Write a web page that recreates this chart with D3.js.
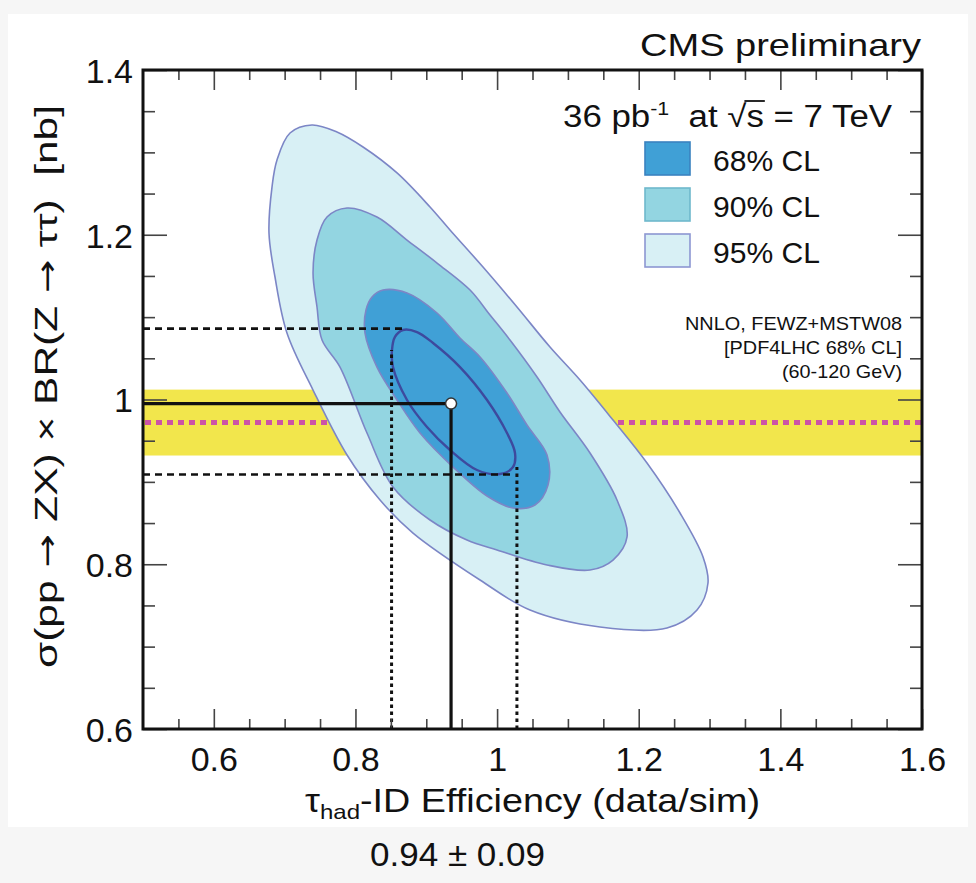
<!DOCTYPE html>
<html><head><meta charset="utf-8">
<script src="https://cdn.jsdelivr.net/npm/d3@7/dist/d3.min.js"></script>
<style>
html,body{margin:0;padding:0;background:#f6f6f6;}
svg{display:block;}
text{font-family:"Liberation Sans",Arial,Helvetica,sans-serif;fill:#111;}
</style></head>
<body>
<svg id="c" width="976" height="883"></svg>
<script>
// ---------- data ----------
const xTicks = [0.6, 0.8, 1.0, 1.2, 1.4, 1.6];
const xTickLabels = ["0.6", "0.8", "1", "1.2", "1.4", "1.6"];
const yTicks = [0.6, 0.8, 1.0, 1.2, 1.4];
const yTickLabels = ["0.6", "0.8", "1", "1.2", "1.4"];
const xDomain = [0.5, 1.6];
const yDomain = [0.6, 1.4];

const contour95 = [[0.7386,1.3332],[0.7739,1.3247],[0.8107,1.3065],[0.8587,1.2750],[0.9053,1.2337],[0.9335,1.2058],[0.9801,1.1608],[1.0281,1.1123],[1.0747,1.0637],[1.1171,1.0237],[1.1637,0.9751],[1.2117,0.9229],[1.2583,0.8622],[1.2908,0.8088],[1.2978,0.7772],[1.2823,0.7444],[1.2399,0.7226],[1.1453,0.7238],[1.0465,0.7444],[0.9759,0.7809],[0.8813,0.8379],[0.8347,0.8780],[0.7881,0.9326],[0.7401,1.0115],[0.7033,1.0807],[0.6864,1.1487],[0.6779,1.2021],[0.6822,1.2580],[0.6892,1.2907],[0.7076,1.3235]];
const contour90 = [[0.7881,1.2325],[0.8304,1.2215],[0.8728,1.1936],[0.9152,1.1657],[0.9618,1.1329],[0.9900,1.1026],[1.0182,1.0722],[1.0564,1.0273],[1.0888,0.9848],[1.1312,0.9350],[1.1693,0.8780],[1.1835,0.8331],[1.1637,0.8051],[1.1312,0.7930],[1.0705,0.7991],[0.9999,0.8173],[0.9575,0.8294],[0.9053,0.8537],[0.8530,0.8938],[0.8163,0.9593],[0.7782,1.0394],[0.7528,1.0722],[0.7457,1.1123],[0.7401,1.1536],[0.7457,1.1936],[0.7598,1.2215]];
const contour68 = [[0.8389,1.1329],[0.8728,1.1293],[0.9152,1.1050],[0.9476,1.0747],[0.9759,1.0516],[1.0140,1.0079],[1.0422,0.9690],[1.0705,0.9326],[1.0719,0.8962],[1.0535,0.8719],[1.0225,0.8683],[0.9858,0.8828],[0.9378,0.9180],[0.8912,0.9593],[0.8587,0.9994],[0.8304,1.0394],[0.8135,1.0807],[0.8149,1.1086],[0.8234,1.1244]];
const ellipse1D = [[0.8671,1.0844],[0.8869,1.0819],[0.9095,1.0686],[0.9476,1.0394],[0.9858,0.9994],[1.0140,0.9593],[1.0253,0.9350],[1.0225,0.9180],[1.0041,0.9095],[0.9716,0.9144],[0.9335,0.9387],[0.9010,0.9666],[0.8728,0.9994],[0.8530,1.0394],[0.8516,1.0601],[0.8558,1.0759]];

const bestFit = [0.935, 0.995];
const effInterval = [0.851, 1.028];
const xsecInterval = [0.909, 1.086];
const theoryCentral = 0.972;
const theoryBand = [0.932, 1.012];

const clLabels = ["68% CL", "90% CL", "95% CL"];
const clFills = ["#40a0d6", "#93d5e1", "#d8f0f5"];
const clStrokes = ["#3a82c0", "#6fb8cc", "#8d97d2"];
const theoryLines = ["NNLO, FEWZ+MSTW08", "[PDF4LHC 68% CL]", "(60-120 GeV)"];
const resultText = "0.94 ± 0.09";
const yTitleParts = ["σ(pp", " → ", "ZX) × BR(Z", " → ", "ττ)  [nb]"];

// ---------- drawing ----------
const svg = d3.select("#c");
const L = 143, R = 922, T = 70, B = 729;
const x = d3.scaleLinear().domain(xDomain).range([L, R]);
const y = d3.scaleLinear().domain(yDomain).range([B, T]);

svg.append("rect").attr("x", 8).attr("y", 14).attr("width", 960).attr("height", 813).attr("fill", "#fff");

// theory band
svg.append("rect").attr("x", x(xDomain[0])).attr("y", y(theoryBand[1]))
  .attr("width", x(xDomain[1]) - x(xDomain[0])).attr("height", y(theoryBand[0]) - y(theoryBand[1]))
  .attr("fill", "#f2e64c");
svg.append("line").attr("x1", x(xDomain[0]) + 2).attr("x2", x(xDomain[1]))
  .attr("y1", y(theoryCentral)).attr("y2", y(theoryCentral))
  .attr("stroke", "#cc53a6").attr("stroke-width", 5).attr("stroke-dasharray", "6,5");

// contours
const line = d3.line().x(d => x(d[0])).y(d => y(d[1])).curve(d3.curveCatmullRomClosed.alpha(0.5));
[[contour95, 2], [contour90, 1], [contour68, 0]].forEach(([pts, i]) => {
  svg.append("path").attr("d", line(pts)).attr("fill", clFills[i])
    .attr("stroke", "#7c86c6").attr("stroke-width", 1.6);
});
svg.append("path").attr("d", line(ellipse1D)).attr("fill", "none")
  .attr("stroke", "#3d4a9e").attr("stroke-width", 2.4);

// error box lines
const g = svg.append("g");
g.append("line").attr("x1", x(xDomain[0])).attr("x2", x(effInterval[0]) + 12)
  .attr("y1", y(xsecInterval[1])).attr("y2", y(xsecInterval[1]))
  .attr("stroke", "#111").attr("stroke-width", 2.6).attr("stroke-dasharray", "7,5");
g.append("line").attr("x1", x(xDomain[0])).attr("x2", x(effInterval[1]) - 6)
  .attr("y1", y(xsecInterval[0])).attr("y2", y(xsecInterval[0]))
  .attr("stroke", "#111").attr("stroke-width", 2.6).attr("stroke-dasharray", "7,5");
g.append("line").attr("x1", x(effInterval[0])).attr("x2", x(effInterval[0]))
  .attr("y1", y(yDomain[0])).attr("y2", y(1.06))
  .attr("stroke", "#111").attr("stroke-width", 3).attr("stroke-dasharray", "3.5,3.5");
g.append("line").attr("x1", x(effInterval[1])).attr("x2", x(effInterval[1]))
  .attr("y1", y(yDomain[0])).attr("y2", y(0.918))
  .attr("stroke", "#111").attr("stroke-width", 3).attr("stroke-dasharray", "3.5,3.5");
g.append("line").attr("x1", x(xDomain[0])).attr("x2", x(bestFit[0]))
  .attr("y1", y(bestFit[1])).attr("y2", y(bestFit[1]))
  .attr("stroke", "#111").attr("stroke-width", 3.2);
g.append("line").attr("x1", x(bestFit[0])).attr("x2", x(bestFit[0]))
  .attr("y1", y(bestFit[1])).attr("y2", y(yDomain[0]))
  .attr("stroke", "#111").attr("stroke-width", 3.2);
g.append("circle").attr("cx", x(bestFit[0])).attr("cy", y(bestFit[1])).attr("r", 5.5)
  .attr("fill", "#fff").attr("stroke", "#333").attr("stroke-width", 1.5);

// axes (ROOT style: ticks inside on all sides)
const xMinor = d3.range(0.55, 1.6, 0.05).filter(v => !xTicks.some(t => Math.abs(t - v) < 1e-6));
const yMinor = d3.range(0.65, 1.4, 0.05).filter(v => !yTicks.some(t => Math.abs(t - v) < 1e-6));
function tickAxis(axisFn, scale, vals, size, tr) {
  const a = svg.append("g").attr("transform", tr)
    .call(axisFn(scale).tickValues(vals).tickSize(size).tickFormat(""));
  a.select(".domain").remove();
  a.selectAll("line").attr("stroke", "#444").attr("stroke-width", 1.6);
  return a;
}
tickAxis(d3.axisBottom, x, xTicks, -20, `translate(0,${B})`);
tickAxis(d3.axisBottom, x, xMinor, -10, `translate(0,${B})`);
tickAxis(d3.axisTop, x, xTicks, -20, `translate(0,${T})`);
tickAxis(d3.axisTop, x, xMinor, -10, `translate(0,${T})`);
tickAxis(d3.axisLeft, y, yTicks, -24, `translate(${L},0)`);
tickAxis(d3.axisLeft, y, yMinor, -12, `translate(${L},0)`);
tickAxis(d3.axisRight, y, yTicks, -24, `translate(${R},0)`);
tickAxis(d3.axisRight, y, yMinor, -12, `translate(${R},0)`);

// tick labels
const xl = svg.append("g").attr("transform", `translate(0,${B})`)
  .call(d3.axisBottom(x).tickValues(xTicks).tickSize(0).tickPadding(18)
    .tickFormat((d, i) => xTickLabels[i]));
xl.select(".domain").remove();
xl.selectAll("text").attr("font-size", 34).attr("dy", "0.71em").attr("fill", "#222")
  .style("font-family", '"Liberation Sans",Arial,sans-serif');
const yl = svg.append("g").attr("transform", `translate(${L},0)`)
  .call(d3.axisLeft(y).tickValues(yTicks).tickSize(0).tickPadding(10)
    .tickFormat((d, i) => yTickLabels[i]));
yl.select(".domain").remove();
yl.selectAll("text").attr("font-size", 34).attr("dy", "0.36em").attr("fill", "#222")
  .style("font-family", '"Liberation Sans",Arial,sans-serif');

// frame
svg.append("rect").attr("x", L).attr("y", T).attr("width", R - L).attr("height", B - T)
  .attr("fill", "none").attr("stroke", "#111").attr("stroke-width", 3);

// titles
svg.append("text").attr("x", 640).attr("y", 56)
  .attr("font-size", 32).attr("textLength", 281).attr("lengthAdjust", "spacingAndGlyphs")
  .text("CMS preliminary");

const xt = svg.append("text").attr("x", 305).attr("y", 812).attr("font-size", 33)
  .attr("textLength", 455).attr("lengthAdjust", "spacingAndGlyphs");
xt.append("tspan").text("τ");
xt.append("tspan").attr("font-size", 21).attr("dy", 7).text("had");
xt.append("tspan").attr("dy", -7).text("-ID Efficiency (data/sim)");

const yt = svg.append("text").attr("transform", "translate(57,668) rotate(-90)")
  .attr("font-size", 32).attr("textLength", 563).attr("lengthAdjust", "spacingAndGlyphs")
  .style("white-space", "pre");
yTitleParts.forEach(p => {
  const sp = yt.append("tspan").text(p);
  if (p.includes("→")) sp.style("font-family", '"DejaVu Sans",sans-serif').attr("font-size", 30);
});

svg.append("text").attr("x", 370).attr("y", 866)
  .attr("font-size", 33).attr("textLength", 175).attr("lengthAdjust", "spacingAndGlyphs")
  .text(resultText);

// legend header
const lh = svg.append("text").attr("x", 563).attr("y", 127).attr("font-size", 31)
  .attr("textLength", 329).attr("lengthAdjust", "spacingAndGlyphs");
lh.append("tspan").text("36 pb");
lh.append("tspan").attr("font-size", 19).attr("dy", -12).text("-1");
lh.append("tspan").attr("dy", 12).text("\u00a0 at ");
const rootSpan = lh.append("tspan").text("√");
const sSpan = lh.append("tspan").text("s");
lh.append("tspan").text(" = 7 TeV");
(function () {
  const r = rootSpan.node().getExtentOfChar(0);
  const s = sSpan.node().getExtentOfChar(0);
  const yTop = r.y + 2;
  svg.append("line").attr("x1", r.x + r.width - 2).attr("x2", s.x + s.width + 1)
    .attr("y1", yTop).attr("y2", yTop).attr("stroke", "#111").attr("stroke-width", 1.8);
})();

// legend entries
clLabels.forEach((lab, i) => {
  const yy = 142 + i * 46;
  svg.append("rect").attr("x", 645).attr("y", yy).attr("width", 45).attr("height", 33)
    .attr("fill", clFills[i]).attr("stroke", clStrokes[i]).attr("stroke-width", 1.6);
  svg.append("text").attr("x", 713).attr("y", yy + 29).attr("font-size", 29)
    .attr("textLength", 107).attr("lengthAdjust", "spacingAndGlyphs").text(lab);
});

// theory text
const theoryWidths = [217, 178, 120];
theoryLines.forEach((t, i) => {
  svg.append("text").attr("x", 902 - theoryWidths[i]).attr("y", 330 + i * 24)
    .attr("font-size", 19).attr("textLength", theoryWidths[i]).attr("lengthAdjust", "spacingAndGlyphs")
    .text(t);
});
</script>
</body></html>
